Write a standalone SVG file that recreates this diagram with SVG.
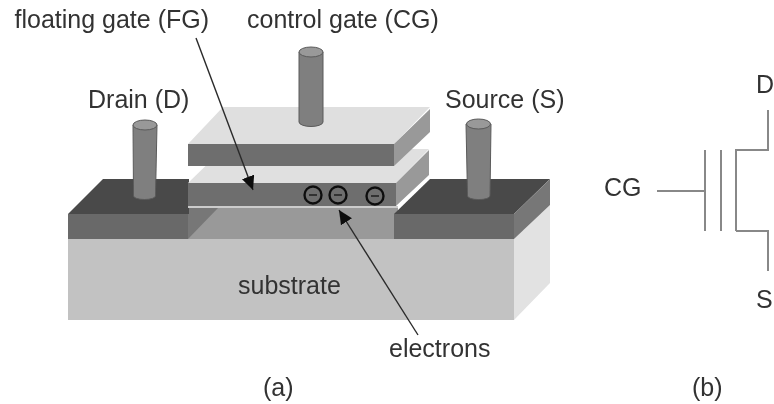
<svg xmlns="http://www.w3.org/2000/svg" width="774" height="404" viewBox="0 0 774 404">
<defs>
<style>
text{font-family:"Liberation Sans",Arial,sans-serif;font-size:25px;fill:#333}
.cyl{fill:#7f7f7f;stroke:#5a5a5a;stroke-width:1}
.cap{fill:#999;stroke:#5a5a5a;stroke-width:1}
.sym{fill:none;stroke:#888;stroke-width:2}
.arrow{fill:none;stroke:#2a2a2a;stroke-width:1.4}
.e{fill:none;stroke:#111;stroke-width:2.4}
.em{fill:none;stroke:#333;stroke-width:2}
</style>
<marker id="ah" markerUnits="userSpaceOnUse" markerWidth="16" markerHeight="16" refX="14" refY="6.500" orient="auto"><path d="M0 0L14 6.500L0 13Z" fill="#111"/></marker>
<filter id="soft" x="0" y="0" width="100%" height="100%"><feGaussianBlur stdDeviation="0.45"/></filter>
</defs>
<rect width="774" height="404" fill="#fff"/>
<g filter="url(#soft)">
<g id="substrate">
<path d="M68 239H514V320H68Z" fill="#c2c2c2"/>
<path d="M514 239L550 205V283L514 320Z" fill="#e2e2e2"/>
<text x="238" y="294">substrate</text>
</g>
<g id="channel">
<path d="M188 208H398V239H188Z" fill="#999"/>
<path d="M188 208H218L188 239Z" fill="#777"/>
</g>
<g id="drain">
<path d="M68 214L103 179H189V214Z" fill="#484848"/>
<path d="M68 214H188V239H68Z" fill="#696969"/>
<path class="cyl" d="M133 125L133.500 196A11 3.500 0 0 0 155.500 196L157 125Z"/>
<ellipse class="cap" cx="145" cy="125" rx="12" ry="5"/>
<text x="88" y="108">Drain (D)</text>
</g>
<g id="floating-gate">
<path d="M188 183L223 149H429L396 183Z" fill="#e0e0e0"/>
<path d="M396 183L429 150V175L396 206Z" fill="#999"/>
<path d="M188 183H396V206H188Z" fill="#6e6e6e"/>
<path d="M188 207H398" stroke="#ccc" stroke-width="2"/>
<path d="M401 204L429 178" stroke="#fff" stroke-width="3"/>
</g>
<g id="control-gate">
<path d="M188 144L223 107H430L394 144Z" fill="#dfdfdf"/>
<path d="M394 144L430 109V132L394 166Z" fill="#999"/>
<path d="M188 144H394V166H188Z" fill="#6e6e6e"/>
<path class="cyl" d="M299 52V122A12 4.500 0 0 0 323 122V52Z"/>
<ellipse class="cap" cx="311" cy="52" rx="12" ry="5"/>
<text x="247" y="28">control gate (CG)</text>
</g>
<g id="source">
<path d="M394 214L430 179H550L514 214Z" fill="#484848"/>
<path d="M394 214H514V239H394Z" fill="#696969"/>
<path d="M514 214L550 179V205L514 239Z" fill="#777"/>
<path class="cyl" d="M466 124L467.500 196A11 3.500 0 0 0 490 196L491 124Z"/>
<ellipse class="cap" cx="478.500" cy="124" rx="12" ry="5"/>
<text x="445" y="108">Source (S)</text>
</g>
<g id="electrons">
<g class="e"><circle cx="313" cy="195" r="8.500"/><circle cx="338" cy="195" r="8.500"/><circle cx="375" cy="196" r="8.500"/></g>
<path class="em" d="M309 195H317M334 195H342M371 196H379"/>
</g>
<g id="labels">
<text x="14.500" y="28">floating gate (FG)</text>
<text x="389" y="357">electrons</text>
<text x="263" y="396">(a)</text>
<text x="692" y="396">(b)</text>
</g>
<g id="connectors">
<path class="arrow" d="M196 38L253 190" marker-end="url(#ah)"/>
<path class="arrow" d="M418 335L339 210" marker-end="url(#ah)"/>
</g>
<g id="symbol">
<path class="sym" d="M657 191H705M705 150V231M721 150V231M736 231V150H768V110M736 231H768V271"/>
<text x="604" y="196">CG</text>
<text x="756" y="93">D</text>
<text x="756" y="308">S</text>
</g>
</g>
</svg>
